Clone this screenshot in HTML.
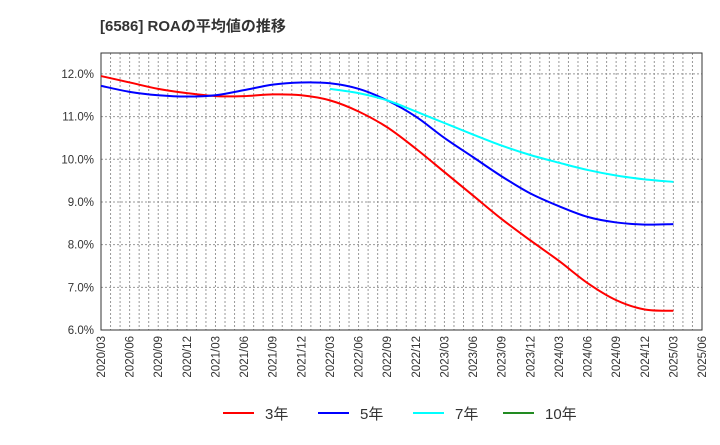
<!DOCTYPE html>
<html><head><meta charset="utf-8"><style>
body{margin:0;background:#fff;font-family:"Liberation Sans","Noto Sans CJK JP",sans-serif;}
</style></head><body>
<svg id="c" width="720" height="440" xmlns="http://www.w3.org/2000/svg">
<text x="100" y="31" font-size="15" font-weight="bold" fill="#333" font-family="Liberation Sans,Noto Sans CJK JP,sans-serif">[6586]  ROAの平均値の推移</text>
<g id="grid"></g><g id="axes"></g><g id="series"></g><g id="legend"></g>
</svg>
<script>
const categories=["2020/03","2020/06","2020/09","2020/12","2021/03","2021/06","2021/09","2021/12","2022/03","2022/06","2022/09","2022/12","2023/03","2023/06","2023/09","2023/12","2024/03","2024/06","2024/09","2024/12","2025/03","2025/06"];
const yTicks=[6,7,8,9,10,11,12];
const s3=[11.95,11.8,11.65,11.55,11.48,11.48,11.52,11.5,11.38,11.12,10.75,10.25,9.7,9.15,8.6,8.1,7.62,7.1,6.7,6.48,6.45];
const s5=[11.72,11.58,11.5,11.47,11.5,11.62,11.75,11.8,11.78,11.65,11.38,11.0,10.5,10.05,9.6,9.2,8.9,8.65,8.52,8.47,8.48];
const s7=[null,null,null,null,null,null,null,null,11.65,11.55,11.38,11.12,10.85,10.58,10.32,10.1,9.92,9.75,9.62,9.53,9.47];
const s10=[];
const NS="http://www.w3.org/2000/svg";
const L=101,R=702,T=53,B=330,yMin=6,yMax=12.49;
const x=i=>L+(R-L)*i/(categories.length-1);
const y=v=>B-(B-T)*(v-yMin)/(yMax-yMin);
function mk(tag,attrs,parent){const e=document.createElementNS(NS,tag);for(const k in attrs)e.setAttribute(k,attrs[k]);parent.appendChild(e);return e;}
const grid=document.getElementById('grid'),axes=document.getElementById('axes'),ser=document.getElementById('series'),leg=document.getElementById('legend');
const months=(categories.length-1)*3;
for(let m=1;m<months;m++){const xx=L+(R-L)*m/months;
const g=mk('line',{x1:xx,x2:xx,y1:T,y2:B,stroke:'#999','stroke-dasharray':'2,2','stroke-width':1},grid);

}
yTicks.forEach(t=>{const yy=y(t);
const g=mk('line',{x1:L,x2:R,y1:yy,y2:yy,stroke:'#999','stroke-dasharray':'2,2'},grid);


const tx=mk('text',{x:L-7,y:yy+4,'text-anchor':'end','font-size':11.5,fill:'#333'},axes);tx.textContent=t.toFixed(1)+'%';

});
const fr=mk('rect',{x:L,y:T,width:R-L,height:B-T,fill:'none',stroke:'#333','stroke-width':1},axes);


categories.forEach((c,i)=>{const xx=x(i)+4;
const tx=mk('text',{x:xx,y:B+6,'text-anchor':'end','font-size':11.5,fill:'#333',transform:`rotate(-90 ${xx} ${B+6})`},axes);tx.textContent=c;

});
function path(arr){const p=[];arr.forEach((v,i)=>{if(v!=null)p.push([x(i),y(v)]);});if(p.length<2)return '';
let d=`M${p[0][0]},${p[0][1]}`;for(let i=0;i<p.length-1;i++){const p0=p[i-1]||p[i],p1=p[i],p2=p[i+1],p3=p[i+2]||p2;
d+=` C${p1[0]+(p2[0]-p0[0])/6},${p1[1]+(p2[1]-p0[1])/6} ${p2[0]-(p3[0]-p1[0])/6},${p2[1]-(p3[1]-p1[1])/6} ${p2[0]},${p2[1]}`;}return d;}
const series=[["3年",s3,"#ff0000"],["5年",s5,"#0000ff"],["7年",s7,"#00ffff"],["10年",s10,"#228b22"]];
const lx=[223,318,413,503];
series.forEach((s,k)=>{const d=path(s[1]);if(d){const p=mk('path',{d:d,fill:'none',stroke:s[2],'stroke-width':2},ser);

}
const g=mk('g',{},leg);


mk('line',{x1:lx[k],x2:lx[k]+31,y1:413,y2:413,stroke:s[2],'stroke-width':2},g);
const t=mk('text',{x:lx[k]+42,y:419,'font-size':15,fill:'#333'},g);t.textContent=s[0];});
</script>
</body></html>
